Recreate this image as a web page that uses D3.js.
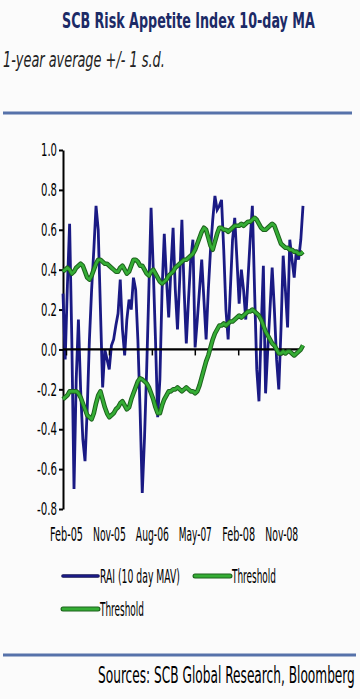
<!DOCTYPE html>
<html>
<head>
<meta charset="utf-8">
<script src="https://cdn.jsdelivr.net/npm/d3@7"></script>
<style>
   body { margin: 0; background: #fbfbfb; }
   svg { display: block; }
   text { font-family: "Liberation Sans Narrow", "DejaVu Sans Condensed", "Liberation Sans", sans-serif; }
</style>
</head>
<body>
<figure style="margin:0"></figure>
<script>

// Series start and spacing (fortnightly readings)
const startDate = "2005-01-13";
const stepDays = 14;

// RAI (10 day MAV)
const rai = [
   0.28, -0.05, 0.32, 0.63, 0.05, -0.70, -0.15, 0.15, -0.20, -0.45,
   -0.56, -0.30, 0.05, 0.30, 0.50, 0.72, 0.60, 0.20, -0.19, 0.00,
   -0.05, -0.10, 0.02, 0.05, 0.12, 0.18, 0.35, 0.10, -0.03, 0.15,
   0.25, 0.20, 0.36, 0.30, 0.05, -0.30, -0.72, -0.45, -0.10, 0.30,
   0.71, 0.40, 0.05, -0.34, -0.15, 0.30, 0.58, 0.35, 0.16, 0.40,
   0.61, 0.30, 0.10, 0.35, 0.65, 0.30, 0.03, 0.25, 0.45, 0.55,
   0.01, 0.15, 0.30, 0.45, 0.25, 0.05, 0.30, 0.50, 0.65, 0.77,
   0.70, 0.72, 0.75, 0.50, 0.20, 0.05, 0.30, 0.55, 0.66, 0.45,
   0.23, 0.40, 0.30, 0.15, 0.35, 0.55, 0.72, 0.30, -0.10, -0.26,
   0.10, 0.42, -0.22, 0.00, 0.20, 0.41, 0.20, -0.05, -0.20, 0.10,
   0.47, 0.30, 0.11, 0.55, 0.45, 0.36, 0.50, 0.45, 0.55, 0.72
];

// Threshold: 1-year average + 1 s.d.
const upperThreshold = [
   0.39, 0.40, 0.41, 0.40, 0.38, 0.39, 0.41, 0.42, 0.43, 0.42,
   0.39, 0.36, 0.35, 0.37, 0.40, 0.43, 0.45, 0.45, 0.44, 0.43,
   0.43, 0.42, 0.41, 0.40, 0.39, 0.39, 0.41, 0.42, 0.40, 0.38,
   0.39, 0.42, 0.45, 0.45, 0.44, 0.42, 0.42, 0.40, 0.38, 0.37,
   0.39, 0.40, 0.38, 0.36, 0.34, 0.33, 0.34, 0.35, 0.37, 0.38,
   0.39, 0.41, 0.42, 0.43, 0.44, 0.45, 0.45, 0.46, 0.47, 0.48,
   0.50, 0.53, 0.56, 0.59, 0.61, 0.60, 0.56, 0.52, 0.50, 0.54,
   0.58, 0.61, 0.61, 0.60, 0.60, 0.59, 0.60, 0.61, 0.62, 0.62,
   0.62, 0.63, 0.62, 0.63, 0.64, 0.64, 0.65, 0.66, 0.65, 0.63,
   0.61, 0.60, 0.60, 0.61, 0.62, 0.63, 0.62, 0.59, 0.56, 0.53,
   0.52, 0.51, 0.51, 0.50, 0.50, 0.49, 0.49, 0.48, 0.48, 0.49
];

// Threshold: 1-year average - 1 s.d.
const lowerThreshold = [
   -0.25, -0.24, -0.23, -0.21, -0.21, -0.21, -0.21, -0.22, -0.24, -0.27,
   -0.30, -0.33, -0.34, -0.35, -0.32, -0.27, -0.23, -0.21, -0.25, -0.29,
   -0.32, -0.34, -0.33, -0.32, -0.30, -0.29, -0.27, -0.26, -0.28, -0.30,
   -0.29, -0.25, -0.22, -0.19, -0.16, -0.145, -0.15, -0.16, -0.17, -0.19,
   -0.22, -0.25, -0.29, -0.32, -0.32, -0.28, -0.25, -0.23, -0.21, -0.21,
   -0.20, -0.20, -0.19, -0.20, -0.21, -0.20, -0.19, -0.20, -0.21, -0.21,
   -0.22, -0.21, -0.18, -0.14, -0.10, -0.06, -0.03, 0.01, 0.05, 0.08,
   0.10, 0.12, 0.12, 0.13, 0.12, 0.13, 0.14, 0.14, 0.15, 0.16,
   0.17, 0.16, 0.17, 0.18, 0.19, 0.19, 0.20, 0.19, 0.18, 0.17,
   0.15, 0.12, 0.09, 0.07, 0.05, 0.03, 0.02, 0.00, -0.02, -0.02,
   -0.01, -0.02, -0.01, -0.01, -0.02, -0.03, -0.02, -0.01, 0.00, 0.02
];

const yTicks = [-0.8, -0.6, -0.4, -0.2, 0.0, 0.2, 0.4, 0.6, 0.8, 1.0];
const xTickLabels = ["2005-02-01", "2005-11-01", "2006-08-01", "2007-05-01", "2008-02-01", "2008-11-01"];
const legendLabels = ["RAI (10 day MAV)", "Threshold", "Threshold"];

const width = 360, height = 699;
const blue = "#1a1a84", green = "#35ad35", darkGreen = "#1d621d";

let svg = d3.select("figure")
   .append("svg")
   .attr("width", width)
   .attr("height", height);

// Squeeze a text horizontally so it spans the given width (the source font is a narrow one).
function squeeze(sel, targetWidth) {
   sel.each(function() {
      let t = d3.select(this);
      let natural = this.getComputedTextLength();
      let s = targetWidth / natural;
      let tx = +t.attr("x") || 0;
      t.attr("x", 0)
         .attr("transform", "translate(" + tx + ",0) scale(" + s + ",1)");
   });
}

// Build the dates for each reading.
let parse = d3.timeParse("%Y-%m-%d");
let t0 = parse(startDate);
let dates = rai.map(function(d, i) { return d3.timeDay.offset(t0, i * stepDays); });

let x = d3.scaleTime()
   .domain([dates[0], dates[dates.length - 1]])
   .range([63, 303]);
let y = d3.scaleLinear()
   .domain([-0.8, 1.0])
   .range([509, 150]);

// Heading
svg.append("text")
   .attr("x", 62).attr("y", 28)
   .style("font-size", "22px").style("font-weight", "bold")
   .style("fill", "#1c2a66")
   .text("SCB Risk Appetite Index 10-day MA")
   .call(squeeze, 253);
svg.append("text")
   .attr("x", 3).attr("y", 67)
   .style("font-size", "21px").style("font-style", "italic")
   .style("fill", "#222")
   .text("1-year average +/- 1 s.d.")
   .call(squeeze, 162);

// Blue rules above and below the chart
svg.append("line")
   .attr("x1", 3).attr("x2", 352).attr("y1", 113).attr("y2", 113)
   .style("stroke", "#5672aa").style("stroke-width", 3);
svg.append("line")
   .attr("x1", 3).attr("x2", 356).attr("y1", 655).attr("y2", 655)
   .style("stroke", "#5672aa").style("stroke-width", 3);

// Y axis
let yAxis = svg.append("g")
   .attr("transform", "translate(63,0)")
   .call(d3.axisLeft(y).tickValues(yTicks).tickFormat(d3.format(".1f")).tickSize(4).tickSizeOuter(0));
yAxis.select(".domain").style("stroke", "#000").style("stroke-width", 2);
yAxis.selectAll(".tick line").style("stroke", "#000").style("stroke-width", 2);
yAxis.selectAll("text")
   .attr("x", -6)
   .style("font-size", "18px").style("fill", "#000")
   .text(function(d) { return d3.format(".1f")(d).replace("−", "-"); })
   .each(function(d) { d3.select(this).call(squeeze, d < 0 ? 20 : 16); });

// X axis tick labels along the bottom
let xAxis = svg.append("g")
   .attr("transform", "translate(0,509)")
   .call(d3.axisBottom(x).tickValues(xTickLabels.map(parse)).tickFormat(d3.timeFormat("%b-%y")).tickSize(0));
xAxis.select(".domain").remove();
xAxis.selectAll("text")
   .attr("y", 19)
   .style("font-size", "19px").style("fill", "#000")
   .call(squeeze, 33);

let line = d3.line()
   .x(function(d, i) { return x(dates[i]); })
   .y(function(d) { return y(d); });

// RAI series
svg.append("path")
   .datum(rai)
   .attr("d", line)
   .style("fill", "none")
   .style("stroke", blue)
   .style("stroke-width", 2.8)
   .style("stroke-linejoin", "miter");

// Zero line with the date ticks
let zeroAxis = svg.append("g")
   .attr("transform", "translate(0," + y(0) + ")")
   .call(d3.axisBottom(x).tickValues(xTickLabels.map(parse)).tickFormat("").tickSize(6).tickSizeOuter(0));
zeroAxis.select(".domain").attr("d", "M63,0H299").style("stroke", "#000").style("stroke-width", 2.2);
zeroAxis.selectAll(".tick line").style("stroke", "#000").style("stroke-width", 1.5);

// Threshold lines: dark rim under a bright green core
[upperThreshold, lowerThreshold].forEach(function(series) {
   svg.append("path")
      .datum(series)
      .attr("d", line)
      .style("fill", "none").style("stroke", darkGreen).style("stroke-width", 4.6)
      .style("stroke-linejoin", "round");
   svg.append("path")
      .datum(series)
      .attr("d", line)
      .style("fill", "none").style("stroke", green).style("stroke-width", 2.6)
      .style("stroke-linejoin", "round");
});

// Legend
let legendItems = [
   {x: 63, y: 576, len: 35, label: legendLabels[0], color: blue, textLen: 80},
   {x: 195, y: 576, len: 35, label: legendLabels[1], color: green, textLen: 44},
   {x: 63, y: 609, len: 35, label: legendLabels[2], color: green, textLen: 44}
];
legendItems.forEach(function(d) {
   let g = svg.append("g");
   if (d.color == blue) {
      g.append("line")
         .attr("x1", d.x).attr("x2", d.x + d.len).attr("y1", d.y).attr("y2", d.y)
         .style("stroke", "#0e0e50").style("stroke-width", 3.6).style("stroke-linecap", "round");
      g.append("line")
         .attr("x1", d.x).attr("x2", d.x + d.len).attr("y1", d.y).attr("y2", d.y)
         .style("stroke", blue).style("stroke-width", 2).style("stroke-linecap", "round");
   }
   else {
      g.append("line")
         .attr("x1", d.x).attr("x2", d.x + d.len).attr("y1", d.y).attr("y2", d.y)
         .style("stroke", darkGreen).style("stroke-width", 5).style("stroke-linecap", "round");
      g.append("line")
         .attr("x1", d.x).attr("x2", d.x + d.len).attr("y1", d.y).attr("y2", d.y)
         .style("stroke", green).style("stroke-width", 2.8).style("stroke-linecap", "round");
   }
   g.append("text")
      .attr("x", d.x + d.len + 2).attr("y", d.y + 7)
      .style("font-size", "19px").style("fill", "#000")
      .text(d.label)
      .call(squeeze, d.textLen);
});

// Source note
svg.append("text")
   .attr("x", 98).attr("y", 683)
   .style("font-size", "23px").style("fill", "#000")
   .text("Sources: SCB Global Research, Bloomberg")
   .call(squeeze, 257);

</script>
</body>
</html>
